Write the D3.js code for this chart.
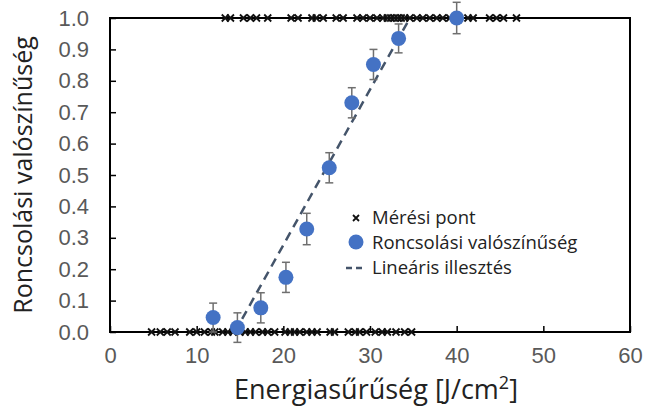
<!DOCTYPE html>
<meta charset="utf-8">
<style>
  body { margin: 0; background: #fff; }
  svg { display: block; }
  .tick text { font: 22px "Liberation Sans", Arial, sans-serif; fill: #595959; }
  .title { font-family: "Open Sans", sans-serif; fill: #222; }
  .legend text { font: 18.5px "Open Sans", sans-serif; fill: #222; }
</style>
<body>
<svg width="648" height="408"></svg>
<script src="https://d3js.org/d3.v7.min.js"></script>
<script>
// binned probability of damage
const binX = [11.9, 14.7, 17.4, 20.3, 22.7, 25.3, 27.9, 30.4, 33.3, 40.0];
const binP = [0.046, 0.014, 0.077, 0.174, 0.328, 0.523, 0.730, 0.852, 0.935, 1.0];
const binErr = [0.046, 0.047, 0.048, 0.048, 0.05, 0.048, 0.048, 0.048, 0.046, 0.05];

// single measurements (0 = no damage, 1 = damage)
const missX = [4.8, 5.8, 6.6, 7.5, 9.2, 10.0, 10.9, 11.7, 12.1, 13.0, 13.6, 14.2, 15.0, 15.6,
  16.2, 16.8, 17.6, 18.2, 19.0, 20.2, 20.8, 21.3, 21.9, 22.7, 23.3, 23.9, 25.4, 25.9,
  27.5, 28.3, 28.8, 29.6, 30.6, 31.4, 32.0, 33.0, 34.0, 34.8];
const hitX = [13.3, 13.9, 15.4, 16.2, 16.9, 18.2, 20.9, 21.7, 23.3, 23.8, 24.6, 26.1,
  26.9, 28.5, 29.2, 30.0, 30.8, 31.5, 32.0, 32.4, 32.8, 33.2, 33.6, 34.0, 34.6, 35.4,
  36.1, 36.9, 37.7, 38.4, 39.2, 41.3, 41.9, 43.8, 44.6, 45.4, 46.9];

// linear fit
const fitSlope = 0.0495;
const fitIntercept = -0.713;

const xTicks = [0, 10, 20, 30, 40, 50, 60];
const yTicks = [0, 0.1, 0.2, 0.3, 0.4, 0.5, 0.6, 0.7, 0.8, 0.9, 1.0];
const legendLabels = ["Mérési pont", "Roncsolási valószínűség", "Lineáris illesztés"];

const margin = { left: 110, top: 18, right: 18, bottom: 76 };
const width = 648, height = 408;
const svg = d3.select("svg");

const x = d3.scaleLinear().domain([0, 60]).range([margin.left, width - margin.right]);
const y = d3.scaleLinear().domain([0, 1]).range([height - margin.bottom, margin.top]);

// axes with inner ticks
svg.append("g")
  .attr("transform", `translate(0,${y(0)})`)
  .call(d3.axisBottom(x).tickValues(xTicks).tickSize(-6).tickPadding(15).tickFormat(d3.format("d")))
  .call(g => g.select(".domain").remove())
  .call(g => g.selectAll(".tick line").attr("stroke", "#000").attr("stroke-width", 1.5));

svg.append("g")
  .attr("transform", `translate(${x(0)},0)`)
  .call(d3.axisLeft(y).tickValues(yTicks).tickSize(-6).tickPadding(21).tickFormat(d3.format(".1f")))
  .call(g => g.select(".domain").remove())
  .call(g => g.selectAll(".tick line").attr("stroke", "#000").attr("stroke-width", 1.5));

svg.append("rect")
  .attr("x", x(0)).attr("y", y(1))
  .attr("width", x(60) - x(0)).attr("height", y(0) - y(1))
  .attr("fill", "none").attr("stroke", "#000").attr("stroke-width", 2);

// cross markers
function cross(g, cx, cy, s) {
  g.append("path")
    .attr("d", `M${cx - s},${cy - s}L${cx + s},${cy + s}M${cx - s},${cy + s}L${cx + s},${cy - s}`)
    .attr("stroke", "#111").attr("stroke-width", 1.8).attr("fill", "none");
}
const crosses = svg.append("g");
missX.forEach(v => cross(crosses, x(v), y(0), 3.5));
hitX.forEach(v => cross(crosses, x(v), y(1), 3.5));

// fit line
const x0 = -fitIntercept / fitSlope, x1 = (1 - fitIntercept) / fitSlope;
svg.append("line")
  .attr("x1", x(x0)).attr("y1", y(fitSlope * x0 + fitIntercept))
  .attr("x2", x(x1)).attr("y2", y(fitSlope * x1 + fitIntercept))
  .attr("stroke", "#44546A").attr("stroke-width", 2.5).attr("stroke-dasharray", "9,6");

// error bars
const eb = svg.append("g").attr("stroke", "#6f6f6f").attr("stroke-width", 1.5);
binX.forEach((v, i) => {
  const top = y(binP[i] + binErr[i]), bot = y(binP[i] - binErr[i]), cx = x(v);
  eb.append("line").attr("x1", cx).attr("x2", cx).attr("y1", top).attr("y2", bot);
  eb.append("line").attr("x1", cx - 4).attr("x2", cx + 4).attr("y1", top).attr("y2", top);
  eb.append("line").attr("x1", cx - 4).attr("x2", cx + 4).attr("y1", bot).attr("y2", bot);
});

svg.append("g").selectAll("circle")
  .data(binX)
  .join("circle")
  .attr("cx", d => x(d))
  .attr("cy", (d, i) => y(binP[i]))
  .attr("r", 7.5)
  .attr("fill", "#4472C4");

// legend
const lg = svg.append("g").attr("class", "legend").attr("transform", "translate(356,218)");
cross(lg, 0, 0, 3);
lg.append("circle").attr("cx", 0).attr("cy", 24).attr("r", 7.5).attr("fill", "#4472C4");
lg.append("line").attr("x1", -10).attr("x2", 10).attr("y1", 50).attr("y2", 50)
  .attr("stroke", "#44546A").attr("stroke-width", 2.5).attr("stroke-dasharray", "6,4");
legendLabels.forEach((t, i) => {
  lg.append("text").attr("x", 16).attr("y", i * 25 + 6).text(t);
});

// titles
svg.append("text").attr("class", "title")
  .attr("x", 376).attr("y", 399).attr("text-anchor", "middle")
  .attr("font-size", 27)
  .html('Energiasűrűség [J/cm<tspan dy="-10" font-size="18">2</tspan><tspan dy="10">]</tspan>');

svg.append("text").attr("class", "title")
  .attr("transform", "translate(32,175) rotate(-90)")
  .attr("text-anchor", "middle")
  .attr("font-size", 25)
  .text("Roncsolási valószínűség");
</script>
</body>
